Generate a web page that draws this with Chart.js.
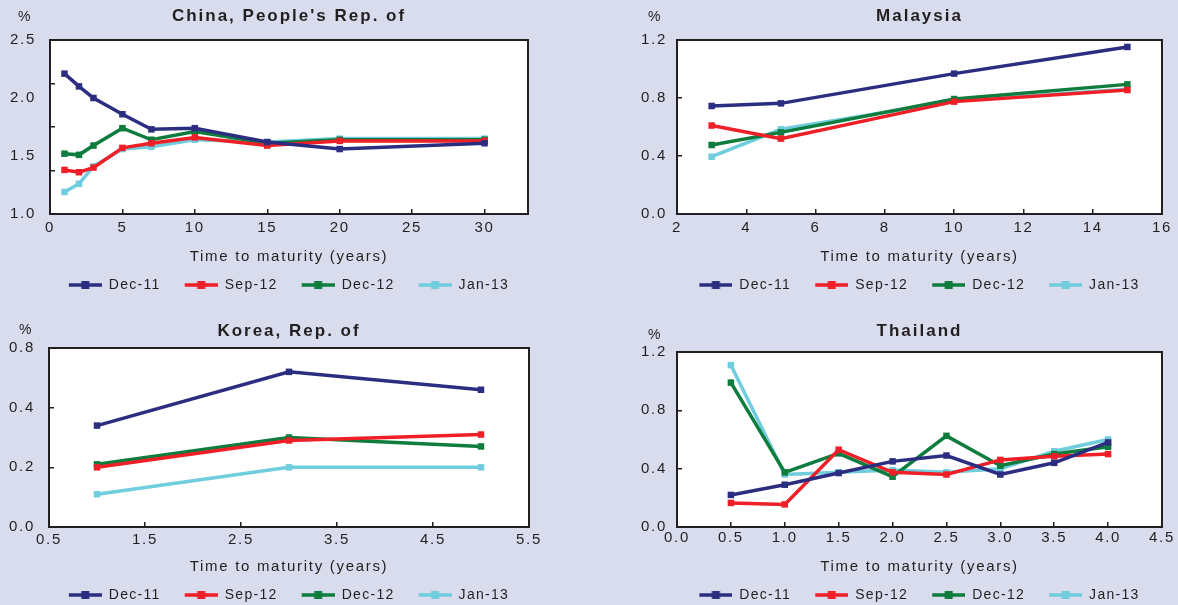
<!DOCTYPE html>
<html>
<head>
<meta charset="utf-8">
<script src="https://cdn.jsdelivr.net/npm/chart.js@4.4.1/dist/chart.umd.min.js"></script>
<style>
  html, body { margin: 0; padding: 0; width: 1178px; height: 605px; overflow: hidden; background: #d8dcec; }
  canvas { position: absolute; }
</style>
</head>
<body>
<canvas id="cChina" width="589" height="302" style="left:0px;top:0px"></canvas>
<canvas id="cMalaysia" width="589" height="302" style="left:589px;top:0px"></canvas>
<canvas id="cKorea" width="589" height="310" style="left:0px;top:302px"></canvas>
<canvas id="cThailand" width="589" height="310" style="left:589px;top:302px"></canvas>
<script>
// ---------------- data ----------------
const seriesNames = ['Dec-11', 'Sep-12', 'Dec-12', 'Jan-13'];
const xTitle = 'Time to maturity (years)';
const yUnit = '%';

const chinaTitle = "China, People's Rep. of";
const chinaMaturity = [1, 2, 3, 5, 7, 10, 15, 20, 30];
const chinaDec11 = [2.21, 2.10, 2.00, 1.86, 1.73, 1.74, 1.62, 1.56, 1.61];
const chinaSep12 = [1.38, 1.36, 1.40, 1.57, 1.61, 1.66, 1.59, 1.63, 1.63];
const chinaDec12 = [1.52, 1.51, 1.59, 1.74, 1.64, 1.71, 1.61, 1.64, 1.64];
const chinaJan13 = [1.19, 1.26, 1.41, 1.56, 1.58, 1.64, 1.62, 1.65, 1.65];
const chinaXRange = [0, 33];
const chinaXTicks = [0, 5, 10, 15, 20, 25, 30];
const chinaXLabels = ['0', '5', '10', '15', '20', '25', '30'];
const chinaYRange = [1.0, 2.5];
const chinaYTicks = [1.0, 1.5, 2.0, 2.5];
const chinaYLabels = ['1.0', '1.5', '2.0', '2.5'];
const chinaYMarks = [1.0, 1.375, 1.75, 2.125, 2.5];

const malaysiaTitle = 'Malaysia';
const malaysiaMaturity = [3, 5, 10, 15];
const malaysiaDec11 = [0.745, 0.763, 0.968, 1.152];
const malaysiaSep12 = [0.61, 0.52, 0.775, 0.855];
const malaysiaDec12 = [0.476, 0.563, 0.793, 0.894];
const malaysiaJan13 = [0.395, 0.584, 0.779, 0.86];
const malaysiaXRange = [2, 16];
const malaysiaXTicks = [2, 4, 6, 8, 10, 12, 14, 16];
const malaysiaXLabels = ['2', '4', '6', '8', '10', '12', '14', '16'];
const malaysiaYRange = [0, 1.2];
const malaysiaYTicks = [0, 0.4, 0.8, 1.2];
const malaysiaYLabels = ['0.0', '0.4', '0.8', '1.2'];

const koreaTitle = 'Korea, Rep. of';
const koreaMaturity = [1, 3, 5];
const koreaDec11 = [0.34, 0.52, 0.46];
const koreaSep12 = [0.20, 0.29, 0.31];
const koreaDec12 = [0.21, 0.30, 0.27];
const koreaJan13 = [0.11, 0.20, 0.20];
const koreaXRange = [0.5, 5.5];
const koreaXTicks = [0.5, 1.5, 2.5, 3.5, 4.5, 5.5];
const koreaXLabels = ['0.5', '1.5', '2.5', '3.5', '4.5', '5.5'];
const koreaYRange = [0, 0.6];
const koreaYTicks = [0, 0.2, 0.4, 0.6];
const koreaYLabels = ['0.0', '0.2', '0.4', '0.8'];

const thailandTitle = 'Thailand';
const thailandMaturity = [0.5, 1.0, 1.5, 2.0, 2.5, 3.0, 3.5, 4.0];
const thailandDec11 = [0.22, 0.29, 0.37, 0.45, 0.49, 0.36, 0.44, 0.58];
const thailandSep12 = [0.165, 0.155, 0.53, 0.375, 0.36, 0.46, 0.485, 0.50];
const thailandDec12 = [0.99, 0.375, 0.505, 0.345, 0.625, 0.42, 0.50, 0.55];
const thailandJan13 = [1.11, 0.36, 0.375, 0.39, 0.375, 0.40, 0.52, 0.60];
const thailandXRange = [0, 4.5];
const thailandXTicks = [0, 0.5, 1.0, 1.5, 2.0, 2.5, 3.0, 3.5, 4.0, 4.5];
const thailandXLabels = ['0.0', '0.5', '1.0', '1.5', '2.0', '2.5', '3.0', '3.5', '4.0', '4.5'];
const thailandYRange = [0, 1.2];
const thailandYTicks = [0, 0.4, 0.8, 1.2];
const thailandYLabels = ['0.0', '0.4', '0.8', '1.2'];

// ---------------- styling ----------------
const seriesColors = ['#2b2e80', '#ee1f26', '#0d7c3d', '#6fcddd'];
const INK = '#231f20';
const FONT = '"Liberation Sans", Arial, sans-serif';
const SPACING_AXIS = '1.7px';
const SPACING_TITLE = '2px';
const SPACING_LEGEND = '1.3px';
const TICK = 5;
const ICON_INSET = 14;
const ICON_LINE = 33;
const LEG_PAD = 10;

Chart.defaults.font.family = FONT;
Chart.defaults.color = INK;

function legendIcon(color) {
  const c = document.createElement('canvas');
  c.width = ICON_INSET + ICON_LINE; c.height = 10;
  const g = c.getContext('2d');
  g.strokeStyle = color; g.lineWidth = 3.5;
  g.beginPath(); g.moveTo(ICON_INSET, 5); g.lineTo(ICON_INSET + ICON_LINE, 5); g.stroke();
  g.fillStyle = color;
  g.fillRect(ICON_INSET + ICON_LINE / 2 - 4, 1, 8, 8);
  return c;
}
const icons = seriesColors.map(legendIcon);

function withSpacing(obj, method, sp) {
  const orig = obj[method];
  obj[method] = function (...args) {
    const ctx = this.ctx;
    const prev = ctx.letterSpacing;
    ctx.letterSpacing = sp;
    try { return orig.apply(this, args); } finally { ctx.letterSpacing = prev; }
  };
}

const framePlugin = {
  id: 'frame',
  afterInit(chart) {
    withSpacing(chart.titleBlock, 'draw', SPACING_TITLE);
    withSpacing(chart.legend, 'fit', SPACING_LEGEND);
    withSpacing(chart.legend, 'draw', SPACING_LEGEND);
  },
  beforeUpdate(chart) { chart.ctx.letterSpacing = SPACING_AXIS; },
  afterLayout(chart) {
    const lg = chart.legend, a = chart.chartArea;
    const dx = (a.left + a.right) / 2 - (lg.left + lg.right) / 2 - ICON_INSET / 2;
    lg.left += dx; lg.right += dx;
  },
  beforeDraw(chart) {
    const { ctx, chartArea: a } = chart;
    ctx.letterSpacing = SPACING_AXIS;
    ctx.save();
    ctx.fillStyle = '#ffffff';
    ctx.fillRect(a.left, a.top, a.right - a.left, a.bottom - a.top);
    ctx.restore();
  },
  afterDraw(chart, args, opts) {
    const { ctx, chartArea: a } = chart;
    ctx.save();
    ctx.strokeStyle = INK; ctx.lineWidth = 2;
    ctx.strokeRect(a.left, a.top, a.right - a.left, a.bottom - a.top);
    ctx.fillStyle = INK;
    ctx.font = '14px ' + FONT;
    ctx.textAlign = 'center'; ctx.textBaseline = 'middle';
    ctx.fillText(yUnit, a.left + opts.ux, a.top + opts.uy);
    ctx.restore();
  }
};

function makeChart(id, s) {
  const g = s.geom;
  const datasets = s.series.map((vals, i) => ({
    label: seriesNames[i],
    data: s.x.map((xv, j) => ({ x: xv, y: vals[j] })),
    borderColor: seriesColors[i],
    backgroundColor: seriesColors[i],
    pointBackgroundColor: seriesColors[i],
    pointBorderWidth: 0,
    pointRadius: 4.6,
    pointStyle: 'rect',
    borderWidth: 3.5,
    tension: 0,
    xAxisID: 'x',
    yAxisID: 'y'
  }));
  const insideGrid = { display: true, drawOnChartArea: false, drawTicks: true, tickLength: -TICK, color: INK, lineWidth: 1.5 };
  const tickFont = { size: 15 };
  const scales = {
    x: {
      type: 'linear', position: 'bottom', min: s.xRange[0], max: s.xRange[1],
      afterBuildTicks: sc => { sc.ticks = s.xTicks.map(v => ({ value: v })); },
      afterFit: sc => { sc.height = g.xh; sc.paddingLeft = 0; sc.paddingRight = 0; },
      ticks: { autoSkip: false, maxRotation: 0, padding: g.xtp + TICK, font: tickFont, color: INK,
               callback: (v, i) => s.xLabels[i] },
      grid: insideGrid,
      border: { display: false },
      title: { display: true, text: xTitle, font: tickFont, color: INK, padding: { top: 0, bottom: g.xtb } }
    }
  };
  if (s.yMarks) {
    scales.y = {
      type: 'linear', position: 'left', weight: 0, min: s.yRange[0], max: s.yRange[1],
      afterBuildTicks: sc => { sc.ticks = s.yMarks.map(v => ({ value: v })); },
      afterFit: sc => { sc.width = 0; sc.paddingTop = 0; sc.paddingBottom = 0; },
      ticks: { display: false },
      grid: insideGrid,
      border: { display: false }
    };
    scales.yl = {
      type: 'linear', position: 'left', weight: 1, min: s.yRange[0], max: s.yRange[1],
      afterBuildTicks: sc => { sc.ticks = s.yTicks.map(v => ({ value: v })); },
      afterFit: sc => { sc.width = g.yw; sc.paddingTop = 0; sc.paddingBottom = 0; },
      ticks: { display: true, padding: g.ytp, font: tickFont, color: INK, callback: (v, i) => s.yLabels[i] },
      grid: { display: false, drawTicks: false },
      border: { display: false }
    };
  } else {
    scales.y = {
      type: 'linear', position: 'left', min: s.yRange[0], max: s.yRange[1],
      afterBuildTicks: sc => { sc.ticks = s.yTicks.map(v => ({ value: v })); },
      afterFit: sc => { sc.width = g.yw; sc.paddingTop = 0; sc.paddingBottom = 0; },
      ticks: { padding: g.ytp + TICK, font: tickFont, color: INK, callback: (v, i) => s.yLabels[i] },
      grid: insideGrid,
      border: { display: false }
    };
  }
  return new Chart(document.getElementById(id), {
    type: 'line',
    data: { datasets },
    options: {
      responsive: false,
      animation: false,
      devicePixelRatio: 1,
      events: [],
      layout: { padding: { left: 0, right: g.pr, top: 0, bottom: 0 } },
      scales,
      plugins: {
        frame: { ux: g.ux, uy: g.uy },
        tooltip: { enabled: false },
        title: {
          display: true, text: s.title, fullSize: false, color: INK,
          font: { size: 17, weight: 'bold' },
          padding: { top: g.tt, bottom: g.tb }
        },
        legend: {
          display: true, position: 'bottom', fullSize: true, align: 'center',
          labels: {
            usePointStyle: true, pointStyleWidth: ICON_INSET + ICON_LINE, padding: LEG_PAD,
            font: { size: 14 }, color: INK,
            generateLabels: chart => chart.data.datasets.map((ds, i) => ({
              text: ds.label, pointStyle: icons[i], fillStyle: ds.borderColor,
              strokeStyle: ds.borderColor, lineWidth: 0, hidden: false, datasetIndex: i, fontColor: INK
            }))
          }
        }
      }
    },
    plugins: [framePlugin]
  });
}

makeChart('cChina', {
  title: chinaTitle, x: chinaMaturity, series: [chinaDec11, chinaSep12, chinaDec12, chinaJan13],
  xRange: chinaXRange, xTicks: chinaXTicks, xLabels: chinaXLabels,
  yRange: chinaYRange, yTicks: chinaYTicks, yLabels: chinaYLabels, yMarks: chinaYMarks,
  geom: { pr: 61, yw: 50, ytp: 14, xh: 54, xtp: 5, xtb: 2, tt: 6.3, tb: 13.3, ux: -25, uy: -23 }
});
makeChart('cMalaysia', {
  title: malaysiaTitle, x: malaysiaMaturity, series: [malaysiaDec11, malaysiaSep12, malaysiaDec12, malaysiaJan13],
  xRange: malaysiaXRange, xTicks: malaysiaXTicks, xLabels: malaysiaXLabels,
  yRange: malaysiaYRange, yTicks: malaysiaYTicks, yLabels: malaysiaYLabels,
  geom: { pr: 16, yw: 88, ytp: 10, xh: 54, xtp: 5, xtb: 2, tt: 6.3, tb: 13.3, ux: -22, uy: -23 }
});
makeChart('cKorea', {
  title: koreaTitle, x: koreaMaturity, series: [koreaDec11, koreaSep12, koreaDec12, koreaJan13],
  xRange: koreaXRange, xTicks: koreaXTicks, xLabels: koreaXLabels,
  yRange: koreaYRange, yTicks: koreaYTicks, yLabels: koreaYLabels,
  geom: { pr: 60, yw: 49, ytp: 14, xh: 51, xtp: 4, xtb: 2, tt: 18.8, tb: 6.8, ux: -23, uy: -18 }
});
makeChart('cThailand', {
  title: thailandTitle, x: thailandMaturity, series: [thailandDec11, thailandSep12, thailandDec12, thailandJan13],
  xRange: thailandXRange, xTicks: thailandXTicks, xLabels: thailandXLabels,
  yRange: thailandYRange, yTicks: thailandYTicks, yLabels: thailandYLabels,
  geom: { pr: 16, yw: 88, ytp: 10, xh: 51, xtp: 2.3, xtb: 2, tt: 18.8, tb: 10.8, ux: -22, uy: -17 }
});
</script>
</body>
</html>
